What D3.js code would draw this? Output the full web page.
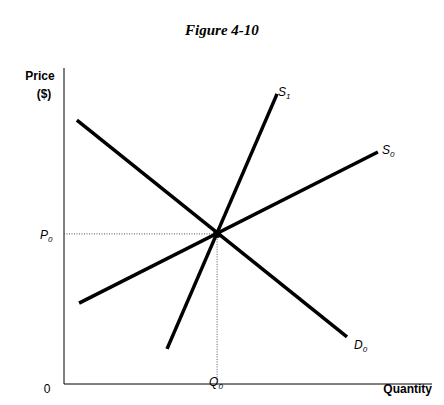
<!DOCTYPE html><html><head><script src="https://cdn.jsdelivr.net/npm/d3@7"></script>
<style>body{margin:0;background:#fff}</style></head><body><svg id="c" width="444" height="405"></svg>
<script>
const lineNames=["D0","S0","S1"];
const demand=[[3.5,83.5],[76.9,14.9]];
const supply0=[[4.1,25.6],[85.3,73.4]];
const supply1=[[28,11.1],[57.9,91.8]];
const equilibrium=[41.6,47.5];
const svg=d3.select("#c");
const x=d3.scaleLinear().domain([0,100]).range([64,432]);
const y=d3.scaleLinear().domain([0,100]).range([384,68]);
const sans="Liberation Sans, Arial, sans-serif";
svg.append("text").attr("x",222).attr("y",35).attr("text-anchor","middle").attr("font-family","Liberation Serif, serif").attr("font-style","italic").attr("font-weight","bold").attr("font-size",15).text("Figure 4-10");
svg.append("line").attr("x1",x(0)).attr("x2",x(0)).attr("y1",y(100)).attr("y2",y(0)).attr("stroke","#000");
svg.append("line").attr("x1",x(0)).attr("x2",x(100)).attr("y1",y(0)).attr("y2",y(0)).attr("stroke","#000");
const dot={stroke:"#555","stroke-dasharray":"1.5,1.5","stroke-width":1};
svg.append("line").attr("x1",x(0)).attr("x2",x(equilibrium[0])).attr("y1",y(equilibrium[1])).attr("y2",y(equilibrium[1])).attr("stroke","#555").attr("stroke-dasharray","1,1.5");
svg.append("line").attr("x1",x(equilibrium[0])).attr("x2",x(equilibrium[0])).attr("y1",y(equilibrium[1])).attr("y2",y(0)).attr("stroke","#555").attr("stroke-dasharray","1,1.5");
const ln=d3.line().x(d=>x(d[0])).y(d=>y(d[1]));
[demand,supply0,supply1].forEach(d=>svg.append("path").attr("d",ln(d)).attr("stroke","#000").attr("stroke-width",3.5).attr("fill","none"));
svg.append("circle").attr("cx",x(equilibrium[0])).attr("cy",y(equilibrium[1])).attr("r",4).attr("fill","#000");
function lab(px,py,main,sub,opts={}){const t=svg.append("text").attr("x",px).attr("y",py).attr("font-family",sans).attr("font-size",12).attr("font-style","italic").attr("text-anchor",opts.anchor||"start");t.append("tspan").text(main);t.append("tspan").attr("font-size",8).attr("dy",3).text(sub);}
lab(x(demand[1][0])+7,y(demand[1][1])+12,"D","0");
lab(x(supply0[1][0])+4,y(supply0[1][1])+2,"S","0");
lab(x(supply1[1][0])+1,y(supply1[1][1])+2,"S","1");
lab(40,239,"P","0");
lab(x(equilibrium[0])-8,y(0)+2,"Q","0");
svg.append("text").attr("x",40).attr("y",80).attr("text-anchor","middle").attr("font-family",sans).attr("font-weight","bold").attr("font-size",12).text("Price");
svg.append("text").attr("x",44).attr("y",98).attr("text-anchor","middle").attr("font-family",sans).attr("font-weight","bold").attr("font-size",12).text("($)");
svg.append("text").attr("x",47).attr("y",393).attr("text-anchor","middle").attr("font-family",sans).attr("font-size",12).text("0");
svg.append("text").attr("x",432).attr("y",393).attr("text-anchor","end").attr("font-family",sans).attr("font-weight","bold").attr("font-size",12).text("Quantity");
</script></body></html>
